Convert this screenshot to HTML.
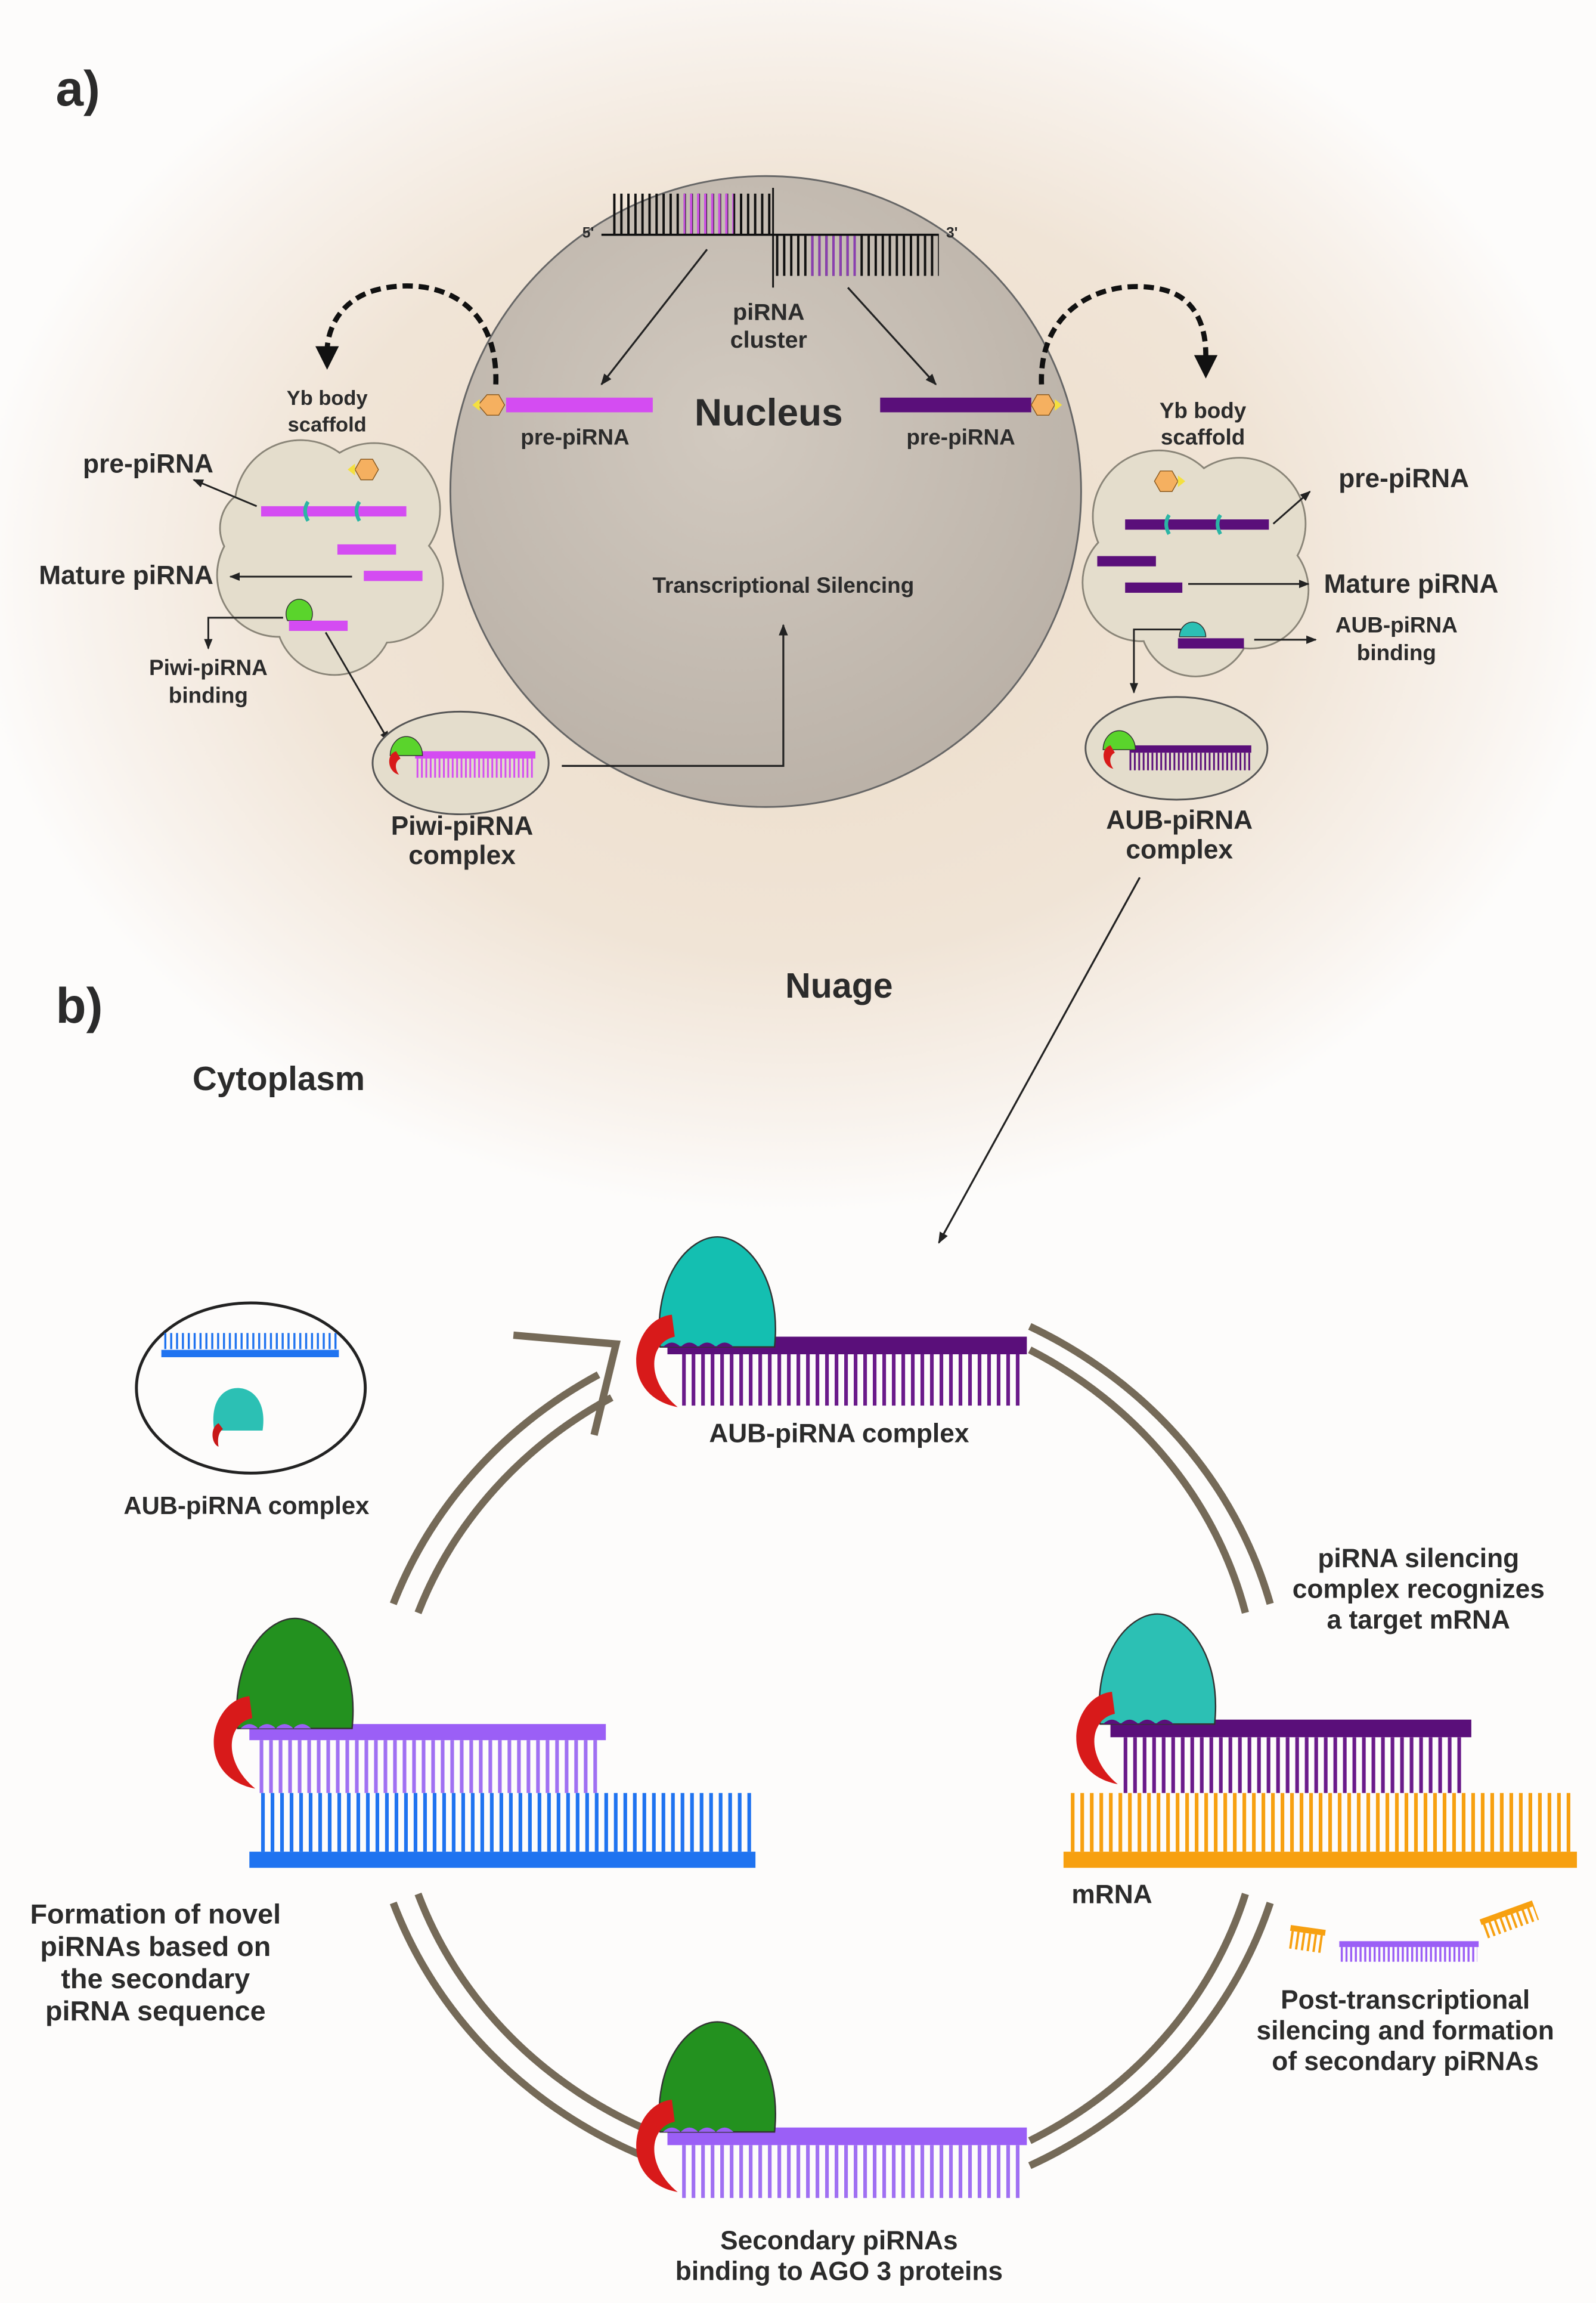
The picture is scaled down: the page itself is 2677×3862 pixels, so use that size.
<!DOCTYPE html>
<html><head><meta charset="utf-8"><style>
html,body{margin:0;padding:0;background:#fdfcfb}
svg{display:block}
text{font-family:"Liberation Sans",sans-serif;font-weight:bold;fill:#2b2b2b}
</style></head><body>
<svg width="2677" height="3862" viewBox="0 0 1088 1569.6" preserveAspectRatio="none" xmlns="http://www.w3.org/2000/svg">
<defs>
<radialGradient id="glow" cx="540" cy="390" r="560" gradientUnits="userSpaceOnUse" gradientTransform="translate(540 390) scale(1 0.78) translate(-540 -390)">
<stop offset="0" stop-color="#ecdcc8"/><stop offset="0.6" stop-color="#f0e4d6"/><stop offset="0.85" stop-color="#f8f2ec"/><stop offset="1" stop-color="#fdfcfb"/>
</radialGradient>
<radialGradient id="nuc" cx="0.45" cy="0.4" r="0.6"><stop offset="0" stop-color="#d2cac0"/><stop offset="1" stop-color="#bbb2a8"/></radialGradient>
<marker id="ah" viewBox="0 0 10 10" refX="9" refY="5" markerWidth="6" markerHeight="6" orient="auto"><path d="M0,1 L10,5 L0,9 Z" fill="#222"/></marker>
</defs>
<rect width="1088" height="1570" fill="#fdfcfb"/>
<rect width="1088" height="900" fill="url(#glow)"/>

<text x="38" y="72" font-size="34">a)</text>
<text x="38" y="697" font-size="34">b)</text>
<text x="190" y="743" font-size="23" text-anchor="middle">Cytoplasm</text>
<text x="572" y="680" font-size="24" text-anchor="middle">Nuage</text>

<circle cx="522" cy="335" r="215" fill="url(#nuc)" stroke="#666" stroke-width="1.2"/>
<line x1="418" y1="146" x2="527" y2="146" stroke="#111" stroke-width="28" stroke-dasharray="1.6 3.2"/>
<line x1="466" y1="146" x2="500" y2="146" stroke="#c94fe0" stroke-width="28" stroke-dasharray="1.6 3.2" stroke-dashoffset="0.4"/>
<line x1="529" y1="174" x2="640" y2="174" stroke="#111" stroke-width="28" stroke-dasharray="1.6 3.2"/>
<line x1="553" y1="174" x2="585" y2="174" stroke="#8a3fb0" stroke-width="28" stroke-dasharray="1.6 3.2"/>
<line x1="410" y1="160" x2="640" y2="160" stroke="#111" stroke-width="1.5"/>
<line x1="527" y1="128" x2="527" y2="196" stroke="#111" stroke-width="1.2"/>
<text x="397" y="162" font-size="10" font-weight="normal">5'</text>
<text x="645" y="162" font-size="10" font-weight="normal">3'</text>
<line x1="482" y1="170" x2="410" y2="262" stroke="#222" stroke-width="1.3" marker-end="url(#ah)"/>
<line x1="578" y1="196" x2="638" y2="262" stroke="#222" stroke-width="1.3" marker-end="url(#ah)"/>
<text x="524" y="218" font-size="16" text-anchor="middle">piRNA</text>
<text x="524" y="237" font-size="16" text-anchor="middle">cluster</text>
<text x="524" y="290" font-size="26" text-anchor="middle">Nucleus</text>
<rect x="345" y="271" width="100" height="10" fill="#d44cf2"/>
<polygon points="326,276 332,269 340,269 344,276 340,283 332,283" fill="#f5b060" stroke="#8a5a20" stroke-width="0.6"/>
<polygon points="322,276 327,272 327,280" fill="#f4e040"/>
<text x="392" y="303" font-size="15" text-anchor="middle">pre-piRNA</text>
<rect x="600" y="271" width="103" height="10" fill="#5a0f7a"/>
<polygon points="703,276 707,269 715,269 719,276 715,283 707,283" fill="#f5b060" stroke="#8a5a20" stroke-width="0.6"/>
<polygon points="724,276 719,272 719,280" fill="#f4e040"/>
<text x="655" y="303" font-size="15" text-anchor="middle">pre-piRNA</text>
<text x="534" y="404" font-size="15" text-anchor="middle">Transcriptional Silencing</text>
<path d="M338,262 C340,200 290,188 255,198 C235,204 224,220 223,238" fill="none" stroke="#111" stroke-width="3.5" stroke-dasharray="7 4"/>
<polygon points="215,236 231,236 223,252" fill="#111"/>
<path d="M710,262 C708,205 760,188 795,198 C815,204 822,222 822,242" fill="none" stroke="#111" stroke-width="3.5" stroke-dasharray="7 4"/>
<polygon points="814,242 830,242 822,258" fill="#111"/>

<g stroke="#8a8578" stroke-width="1.2" fill="#e4ddcc">
<circle cx="205" cy="345" r="45"/><circle cx="255" cy="347" r="45"/><circle cx="262" cy="398" r="40"/><circle cx="228" cy="420" r="40"/><circle cx="190" cy="392" r="42"/><circle cx="178" cy="360" r="28"/>
</g>
<g fill="#e4ddcc">
<circle cx="205" cy="345" r="44.4"/><circle cx="255" cy="347" r="44.4"/><circle cx="262" cy="398" r="39.4"/><circle cx="228" cy="420" r="39.4"/><circle cx="190" cy="392" r="41.4"/><circle cx="178" cy="360" r="27.4"/><circle cx="225" cy="385" r="40"/>
</g>
<polygon points="242,320 246,313 254,313 258,320 254,327 246,327" fill="#f5b060" stroke="#8a5a20" stroke-width="0.6"/>
<polygon points="237,320 242,316 242,324" fill="#f4e040"/>
<rect x="178" y="345" width="99" height="7" fill="#d44cf2"/>
<path d="M210,342 q-4,6 0,13" stroke="#2bb5a5" stroke-width="2.5" fill="none"/>
<path d="M245,342 q-4,6 0,13" stroke="#2bb5a5" stroke-width="2.5" fill="none"/>
<rect x="230" y="371" width="40" height="7" fill="#d44cf2"/>
<rect x="248" y="389" width="40" height="7" fill="#d44cf2"/>
<path d="M196,423 a9,10 0 1 1 16,0 Z" fill="#5ad42c" stroke="#333" stroke-width="0.6"/>
<rect x="197" y="423" width="40" height="7" fill="#d44cf2"/>
<text x="223" y="276" font-size="14" text-anchor="middle">Yb body</text>
<text x="223" y="294" font-size="14" text-anchor="middle">scaffold</text>
<line x1="175" y1="345" x2="132" y2="327" stroke="#222" stroke-width="1.2" marker-end="url(#ah)"/>
<text x="101" y="322" font-size="18" text-anchor="middle">pre-piRNA</text>
<line x1="240" y1="393" x2="157" y2="393" stroke="#222" stroke-width="1.2" marker-end="url(#ah)"/>
<text x="86" y="398" font-size="18" text-anchor="middle">Mature piRNA</text>
<polyline points="193,421 142,421 142,442" fill="none" stroke="#222" stroke-width="1.2" marker-end="url(#ah)"/>
<text x="142" y="460" font-size="15" text-anchor="middle">Piwi-piRNA</text>
<text x="142" y="479" font-size="15" text-anchor="middle">binding</text>
<line x1="222" y1="431" x2="265" y2="505" stroke="#222" stroke-width="1.2" marker-end="url(#ah)"/>
<ellipse cx="314" cy="520" rx="60" ry="35" fill="#e4ddcc" stroke="#555" stroke-width="1.2"/>
<rect x="283" y="512" width="82" height="5" fill="#d44cf2"/>
<line x1="284" y1="523.5" x2="365" y2="523.5" stroke="#d44cf2" stroke-width="13" stroke-dasharray="1.2 1.8"/>
<path d="M266,515 a11,13 0 1 1 22,0 Z" fill="#5ad42c" stroke="#333" stroke-width="0.6"/>
<path d="M270,512 c-7,2 -6,14 2,16 c-3,-4 -3,-9 1,-11 Z" fill="#d81a1a"/>
<text x="315" y="569" font-size="18" text-anchor="middle">Piwi-piRNA</text>
<text x="315" y="589" font-size="18" text-anchor="middle">complex</text>
<polyline points="383,522 534,522 534,426" fill="none" stroke="#222" stroke-width="1.3" marker-end="url(#ah)"/>

<g stroke="#8a8578" stroke-width="1.2" fill="#e4ddcc">
<circle cx="790" cy="352" r="45"/><circle cx="845" cy="357" r="45"/><circle cx="852" cy="402" r="40"/><circle cx="815" cy="423" r="38"/><circle cx="778" cy="397" r="40"/>
</g>
<g fill="#e4ddcc">
<circle cx="790" cy="352" r="44.4"/><circle cx="845" cy="357" r="44.4"/><circle cx="852" cy="402" r="39.4"/><circle cx="815" cy="423" r="37.4"/><circle cx="778" cy="397" r="39.4"/><circle cx="815" cy="390" r="40"/>
</g>
<polygon points="787,328 791,321 799,321 803,328 799,335 791,335" fill="#f5b060" stroke="#8a5a20" stroke-width="0.6"/>
<polygon points="808,328 803,324 803,332" fill="#f4e040"/>
<rect x="767" y="354" width="98" height="7" fill="#5a0f7a"/>
<path d="M797,351 q-4,6 0,13" stroke="#2bb5a5" stroke-width="2.5" fill="none"/>
<path d="M832,351 q-4,6 0,13" stroke="#2bb5a5" stroke-width="2.5" fill="none"/>
<rect x="748" y="379" width="40" height="7" fill="#5a0f7a"/>
<rect x="767" y="397" width="39" height="7" fill="#5a0f7a"/>
<path d="M804,434 a9,10 0 1 1 18,0 Z" fill="#2cc0b4" stroke="#333" stroke-width="0.6"/>
<rect x="803" y="435" width="45" height="7" fill="#5a0f7a"/>
<text x="820" y="285" font-size="15" text-anchor="middle">Yb body</text>
<text x="820" y="303" font-size="15" text-anchor="middle">scaffold</text>
<line x1="868" y1="357" x2="893" y2="335" stroke="#222" stroke-width="1.2" marker-end="url(#ah)"/>
<text x="957" y="332" font-size="18" text-anchor="middle">pre-piRNA</text>
<line x1="810" y1="398" x2="892" y2="398" stroke="#222" stroke-width="1.2" marker-end="url(#ah)"/>
<text x="962" y="404" font-size="18" text-anchor="middle">Mature piRNA</text>
<line x1="855" y1="436" x2="897" y2="436" stroke="#222" stroke-width="1.2" marker-end="url(#ah)"/>
<text x="952" y="431" font-size="15" text-anchor="middle">AUB-piRNA</text>
<text x="952" y="450" font-size="15" text-anchor="middle">binding</text>
<polyline points="805,429 773,429 773,472" fill="none" stroke="#222" stroke-width="1.2" marker-end="url(#ah)"/>
<ellipse cx="802" cy="510" rx="62" ry="35" fill="#e4ddcc" stroke="#555" stroke-width="1.2"/>
<rect x="770" y="508" width="83" height="5" fill="#5a0f7a"/>
<line x1="770" y1="519" x2="853" y2="519" stroke="#5a0f7a" stroke-width="12" stroke-dasharray="1.2 1.8"/>
<path d="M752,511 a11,13 0 1 1 22,0 Z" fill="#5ad42c" stroke="#333" stroke-width="0.6"/>
<path d="M757,508 c-7,2 -6,14 2,16 c-3,-4 -3,-9 1,-11 Z" fill="#d81a1a"/>
<text x="804" y="565" font-size="18" text-anchor="middle">AUB-piRNA</text>
<text x="804" y="585" font-size="18" text-anchor="middle">complex</text>
<line x1="777" y1="598" x2="640" y2="847" stroke="#222" stroke-width="1.3" marker-end="url(#ah)"/>

<g fill="none" stroke="#756a58" stroke-width="5">
<path d="M268.1,1093.1 A318,298 0 0 1 408,936.9"/>
<path d="M285,1099.2 A300,280 0 0 1 417,952.5"/>
<path d="M702,904 A318,298 0 0 1 865.9,1093.1"/>
<path d="M702,920 A300,280 0 0 1 849,1099.2"/>
<path d="M865.9,1296.9 A318,298 0 0 1 702,1476"/>
<path d="M849,1290.8 A300,280 0 0 1 702,1459"/>
<path d="M440,1470 A318,298 0 0 1 268.1,1296.9"/>
<path d="M447,1454 A300,280 0 0 1 285,1290.8"/>
<polyline points="350,910 420,916 405,978"/>
</g>

<ellipse cx="171" cy="946" rx="78" ry="58" fill="none" stroke="#222" stroke-width="2"/>
<line x1="112" y1="914" x2="230" y2="914" stroke="#1f73f0" stroke-width="11" stroke-dasharray="1.4 2.6"/>
<rect x="110" y="920" width="121" height="5" fill="#1f73f0"/>
<path d="M146,975 C143,955 152,946 162,946 C172,946 182,955 179,975 Z" fill="#2cc0b4"/>
<path d="M149,970 c-6,3 -5,14 0,16 c-1,-5 0,-10 3,-12 Z" fill="#c81818"/>
<text x="168" y="1032" font-size="17" text-anchor="middle">AUB-piRNA complex</text>

<rect x="455" y="911" width="245" height="12" fill="#5a0f7a"/>
<line x1="465" y1="940.5" x2="697" y2="940.5" stroke="#6a1a8a" stroke-width="35" stroke-dasharray="2.5 4"/>
<g transform="translate(428,843)">
<path d="M22,75 C17,27 42,0 61,0 C80,0 105,27 100,75 Z" fill="#14bfb1" stroke="#333" stroke-width="1"/>
<path d="M24,75 q6,-6 12,0 q6,-6 12,0 q6,-6 12,0 q6,-6 12,0" fill="#5a0f7a"/>
<path d="M30,53 C2,56 -8,108 34,116 C12,98 14,72 32,68 Z" fill="#d81a1a"/>
</g>
<text x="572" y="983" font-size="18" text-anchor="middle">AUB-piRNA complex</text>
<text x="967" y="1068" font-size="18" text-anchor="middle">piRNA silencing</text>
<text x="967" y="1089" font-size="18" text-anchor="middle">complex recognizes</text>
<text x="967" y="1110" font-size="18" text-anchor="middle">a target mRNA</text>

<rect x="170" y="1175" width="243" height="11" fill="#9b5ff6"/>
<line x1="177" y1="1204" x2="409" y2="1204" stroke="#a070f2" stroke-width="36" stroke-dasharray="2.5 4"/>
<line x1="178" y1="1242" x2="512" y2="1242" stroke="#1f73f0" stroke-width="40" stroke-dasharray="2.5 4"/>
<rect x="170" y="1262" width="345" height="11" fill="#1f73f0"/>
<g transform="translate(140,1103)">
<path d="M22,75 C17,27 42,0 61,0 C80,0 105,27 100,75 Z" fill="#23911f" stroke="#333" stroke-width="1"/>
<path d="M24,75 q6,-6 12,0 q6,-6 12,0 q6,-6 12,0 q6,-6 12,0" fill="#9b5ff6"/>
<path d="M30,53 C2,56 -8,108 34,116 C12,98 14,72 32,68 Z" fill="#d81a1a"/>
</g>
<text x="106" y="1311" font-size="19" text-anchor="middle">Formation of novel</text>
<text x="106" y="1333" font-size="19" text-anchor="middle">piRNAs based on</text>
<text x="106" y="1355" font-size="19" text-anchor="middle">the secondary</text>
<text x="106" y="1377" font-size="19" text-anchor="middle">piRNA sequence</text>

<rect x="757" y="1172" width="246" height="12" fill="#5a0f7a"/>
<line x1="766" y1="1203" x2="998" y2="1203" stroke="#6a1a8a" stroke-width="38" stroke-dasharray="2.5 4"/>
<line x1="730" y1="1242" x2="1072" y2="1242" stroke="#f7a010" stroke-width="40" stroke-dasharray="2.5 4"/>
<rect x="725" y="1262" width="350" height="11" fill="#f7a010"/>
<g transform="translate(728,1100)">
<path d="M22,75 C17,27 42,0 61,0 C80,0 105,27 100,75 Z" fill="#2cc0b4" stroke="#333" stroke-width="1"/>
<path d="M24,75 q6,-6 12,0 q6,-6 12,0 q6,-6 12,0 q6,-6 12,0" fill="#5a0f7a"/>
<path d="M30,53 C2,56 -8,108 34,116 C12,98 14,72 32,68 Z" fill="#d81a1a"/>
</g>
<text x="758" y="1297" font-size="18" text-anchor="middle">mRNA</text>
<g transform="translate(880,1312) rotate(8)">
<rect x="0" y="0" width="24" height="4" fill="#f7a010"/>
<line x1="1" y1="10" x2="24" y2="10" stroke="#f7a010" stroke-width="12" stroke-dasharray="1.6 2.4"/>
</g>
<g transform="translate(1010,1312) rotate(-20)">
<rect x="0" y="-4" width="38" height="4" fill="#f7a010"/>
<line x1="1" y1="4" x2="38" y2="4" stroke="#f7a010" stroke-width="12" stroke-dasharray="1.6 2.4"/>
</g>
<rect x="913" y="1323" width="95" height="4" fill="#9b5ff6"/>
<line x1="914" y1="1332" x2="1007" y2="1332" stroke="#9b5ff6" stroke-width="10" stroke-dasharray="1.4 1.8"/>
<text x="958" y="1369" font-size="18" text-anchor="middle">Post-transcriptional</text>
<text x="958" y="1390" font-size="18" text-anchor="middle">silencing and formation</text>
<text x="958" y="1411" font-size="18" text-anchor="middle">of secondary piRNAs</text>

<rect x="455" y="1450" width="245" height="12" fill="#9b5ff6"/>
<line x1="465" y1="1480" x2="697" y2="1480" stroke="#a070f2" stroke-width="36" stroke-dasharray="2.5 4"/>
<g transform="translate(428,1378)">
<path d="M22,75 C17,27 42,0 61,0 C80,0 105,27 100,75 Z" fill="#23911f" stroke="#333" stroke-width="1"/>
<path d="M24,75 q6,-6 12,0 q6,-6 12,0 q6,-6 12,0 q6,-6 12,0" fill="#9b5ff6"/>
<path d="M30,53 C2,56 -8,108 34,116 C12,98 14,72 32,68 Z" fill="#d81a1a"/>
</g>
<text x="572" y="1533" font-size="18" text-anchor="middle">Secondary piRNAs</text>
<text x="572" y="1554" font-size="18" text-anchor="middle">binding to AGO 3 proteins</text>
</svg>
</body></html>
